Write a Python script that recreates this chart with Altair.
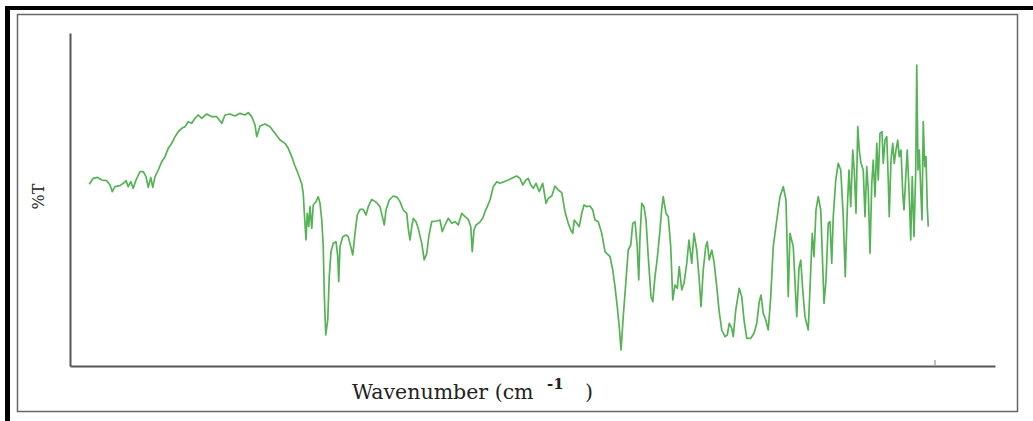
import altair as alt
import pandas as pd

# FT-IR spectrum: wavenumber (cm-1) and transmittance (%T)
wavenumber = [
    3999, 3983, 3967, 3949, 3929, 3916, 3907, 3896, 3876, 3863,
    3852, 3843, 3833, 3823, 3812, 3796, 3783, 3772, 3763, 3753,
    3745, 3736, 3723, 3709, 3696, 3683, 3669, 3656, 3643, 3629,
    3616, 3603, 3589, 3576, 3563, 3549, 3529, 3509, 3489, 3469,
    3456, 3436, 3416, 3396, 3376, 3363, 3349, 3336, 3329, 3316,
    3296, 3276, 3256, 3236, 3216, 3203, 3189, 3176, 3163, 3149,
    3143, 3139, 3132, 3127, 3121, 3116, 3109, 3103, 3092, 3083,
    3076, 3069, 3063, 3059, 3053, 3045, 3039, 3032, 3023, 3012,
    3005, 3001, 2996, 2985, 2972, 2963, 2953, 2945, 2936, 2927,
    2916, 2903, 2892, 2883, 2869, 2849, 2836, 2825, 2819, 2812,
    2799, 2783, 2767, 2756, 2743, 2729, 2723, 2716, 2709, 2703,
    2692, 2683, 2669, 2659, 2649, 2640, 2629, 2609, 2596, 2587,
    2576, 2563, 2549, 2536, 2523, 2509, 2496, 2483, 2473, 2467,
    2460, 2452, 2439, 2425, 2416, 2407, 2396, 2383, 2369, 2356,
    2340, 2323, 2309, 2289, 2276, 2265, 2252, 2243, 2233, 2223,
    2212, 2199, 2185, 2172, 2163, 2149, 2136, 2123, 2109, 2096,
    2083, 2073, 2065, 2059, 2049, 2039, 2029, 2020, 2009, 1996,
    1985, 1976, 1963, 1949, 1936, 1916, 1905, 1896, 1887, 1879,
    1872, 1863, 1852, 1843, 1833, 1825, 1816, 1807, 1801, 1796,
    1789, 1780, 1772, 1763, 1752, 1745, 1736, 1727, 1716, 1709,
    1703, 1692, 1683, 1673, 1665, 1656, 1647, 1639, 1629, 1620,
    1609, 1600, 1589, 1580, 1569, 1559, 1552, 1543, 1533, 1527,
    1519, 1509, 1500, 1489, 1480, 1469, 1456, 1447, 1439, 1429,
    1423, 1413, 1399, 1389, 1380, 1369, 1353, 1340, 1329, 1319,
    1312, 1303, 1293, 1283, 1273, 1263, 1249, 1236, 1223, 1212,
    1207, 1203, 1196, 1183, 1169, 1160, 1153, 1145, 1136, 1123,
    1113, 1107, 1100, 1092, 1083, 1073, 1065, 1060, 1052, 1043,
    1036, 1029, 1023, 1013, 1003, 993, 983, 975, 967, 960,
    953, 945, 939, 932, 925, 919, 912, 903, 896, 889,
    883, 876, 869, 863, 856, 849, 843, 836, 828, 823,
    816, 809, 803, 799, 792, 785, 779, 772, 765, 759,
    752, 745, 740, 733, 727, 720, 713, 707, 700, 693,
    689, 684, 679, 673, 668, 663, 657, 652, 647, 643,
]

transmittance = [
    54.5, 56.3, 56.6, 55.8, 55.6, 54.3, 52.3, 53.8, 54.1, 54.8,
    55.6, 53.8, 55.3, 53.3, 55.8, 58.3, 58.3, 56.8, 53.6, 56.6,
    53.6, 56.8, 58.8, 61.3, 62.8, 65.3, 66.8, 68.8, 70.3, 71.3,
    71.8, 73.3, 72.8, 74.3, 75.3, 74.3, 75.6, 74.8, 74.8, 72.8,
    75.3, 75.6, 75.0, 75.8, 75.3, 76.0, 74.8, 72.3, 68.8, 72.0,
    72.6, 71.8, 69.8, 67.8, 66.8, 65.3, 62.8, 60.0, 57.6, 54.6,
    51.8, 46.3, 37.8, 45.8, 41.8, 47.8, 41.3, 48.3, 49.3, 50.8,
    48.8, 43.8, 35.8, 21.8, 9.3, 13.8, 26.8, 34.3, 36.8, 37.3,
    32.8, 25.3, 35.8, 38.8, 39.3, 38.8, 35.8, 33.3, 39.8, 45.3,
    47.0, 47.0, 45.3, 47.8, 50.0, 49.0, 47.8, 44.3, 42.3, 46.8,
    49.8, 51.0, 50.6, 49.3, 46.8, 45.8, 41.3, 37.8, 41.8, 44.3,
    43.3, 41.3, 36.8, 31.8, 33.8, 39.3, 43.3, 43.5, 43.8, 40.3,
    42.3, 44.3, 42.8, 43.3, 42.3, 45.8, 44.8, 44.0, 41.8, 34.3,
    40.8, 42.3, 43.0, 44.3, 46.3, 47.8, 49.8, 53.8, 55.3, 54.8,
    55.3, 55.8, 56.3, 57.0, 56.3, 54.3, 55.8, 56.3, 54.3, 53.3,
    54.8, 52.3, 54.8, 48.8, 50.3, 51.0, 54.0, 52.8, 52.0, 46.3,
    42.8, 40.8, 39.8, 43.8, 42.8, 41.8, 45.8, 48.3, 47.8, 48.0,
    46.8, 43.8, 43.3, 39.8, 34.3, 32.8, 28.8, 23.8, 17.8, 11.8,
    4.8, 14.8, 25.8, 34.8, 36.3, 42.8, 43.3, 35.8, 25.8, 38.8,
    48.8, 47.8, 43.8, 32.8, 20.8, 19.3, 26.8, 32.3, 40.8, 47.3,
    50.8, 45.8, 44.8, 35.8, 19.8, 24.3, 23.3, 29.8, 22.8, 24.8,
    30.8, 37.8, 30.8, 39.8, 34.8, 25.8, 17.8, 28.8, 35.8, 37.3,
    31.8, 34.8, 31.3, 23.8, 16.8, 10.8, 8.8, 9.3, 12.8, 11.3,
    8.8, 16.8, 23.3, 20.8, 13.8, 8.3, 8.3, 9.8, 12.8, 19.3,
    21.3, 15.8, 13.8, 10.8, 20.8, 35.8, 43.8, 50.8, 53.8, 49.8,
    34.8, 20.8, 39.8, 35.8, 14.8, 29.4, 31.8, 22.8, 14.8, 10.8,
    28.8, 39.8, 32.8, 46.8, 50.8, 46.8, 29.8, 18.8, 25.8, 42.8,
    43.3, 30.8, 44.8, 55.8, 60.8, 58.8, 44.8, 26.8, 46.8, 58.8,
    47.8, 64.8, 58.8, 45.8, 71.8, 64.8, 60.8, 58.8, 44.8, 59.8,
    52.8, 33.8, 54.8, 61.8, 50.8, 66.8, 55.8, 69.8, 70.3, 60.8,
    67.8, 68.8, 55.8, 44.8, 61.8, 66.8, 60.8, 64.8, 67.8, 62.8,
    64.8, 51.8, 46.8, 56.8, 64.8, 52.8, 37.8, 56.8, 38.8, 58.8,
    90.3, 58.8, 64.8, 52.8, 43.8, 73.3, 59.8, 62.8, 47.8, 41.8,
]

x_label = "Wavenumber (cm"
x_label_sup = "-1"
y_label = "%T"

spectrum = pd.DataFrame({"wavenumber": wavenumber, "T": transmittance})
one_row = pd.DataFrame({"k": [0]})

PLOT_W, PLOT_H = 925, 333
SERIF = "DejaVu Serif"

x_scale = alt.Scale(domain=[376, 4076], reverse=True, nice=False, zero=False)
y_scale = alt.Scale(domain=[0, 99.9], nice=False, zero=False)

bare_axis = dict(title=None, labels=False, ticks=False, grid=False,
                 domainColor="#555555", domainWidth=2)

line = alt.Chart(spectrum).mark_line(
    color="#55b355", strokeWidth=1.7, strokeJoin="round"
).encode(
    x=alt.X("wavenumber:Q", scale=x_scale, axis=alt.Axis(**bare_axis)),
    y=alt.Y("T:Q", scale=y_scale, axis=alt.Axis(**bare_axis)),
)

# small inward tick near the low-wavenumber end of the x axis
end_tick = alt.Chart(one_row).mark_rule(color="#aaaaaa", strokeWidth=1.5).encode(
    x=alt.datum(616), y=alt.value(327), y2=alt.value(333)
)

# page frame: heavy black top/left edges and a thin grey box
frame_top = alt.Chart(one_row).mark_rule(color="black", strokeWidth=4).encode(
    x=alt.value(-65), x2=alt.value(963), y=alt.value(-25)
)
frame_left = alt.Chart(one_row).mark_rule(color="black", strokeWidth=5).encode(
    x=alt.value(-62.5), y=alt.value(-27), y2=alt.value(388)
)
frame_box = alt.Chart(one_row).mark_rect(
    fillOpacity=0, stroke="#666666", strokeWidth=1.5
).encode(
    x=alt.value(-52.5), x2=alt.value(947.5), y=alt.value(-18.5), y2=alt.value(378.5)
)

y_title = alt.Chart(one_row).mark_text(
    text=y_label, font=SERIF, fontSize=16, angle=270, align="center",
    baseline="middle", color="#222222"
).encode(x=alt.value(-31), y=alt.value(163.5))

x_title = alt.Chart(one_row).mark_text(
    text=x_label, font=SERIF, fontSize=20.5, align="left",
    baseline="alphabetic", color="#222222"
).encode(x=alt.value(282), y=alt.value(366))

x_title_sup = alt.Chart(one_row).mark_text(
    text=x_label_sup, font=SERIF, fontSize=15, fontWeight="bold", align="left",
    baseline="alphabetic", color="#222222"
).encode(x=alt.value(477), y=alt.value(356))

x_title_close = alt.Chart(one_row).mark_text(
    text=")", font=SERIF, fontSize=20.5, align="left",
    baseline="alphabetic", color="#222222"
).encode(x=alt.value(515), y=alt.value(366))

chart = alt.layer(
    frame_box, frame_top, frame_left, end_tick, line,
    y_title, x_title, x_title_sup, x_title_close,
).properties(
    width=PLOT_W,
    height=PLOT_H,
    padding={"left": 70, "top": 33, "right": 38, "bottom": 55},
    autosize=alt.AutoSizeParams(type="none"),
    background="white",
).configure_view(strokeWidth=0)

chart.save("out.html", embed_options={"renderer": "svg", "actions": False})
